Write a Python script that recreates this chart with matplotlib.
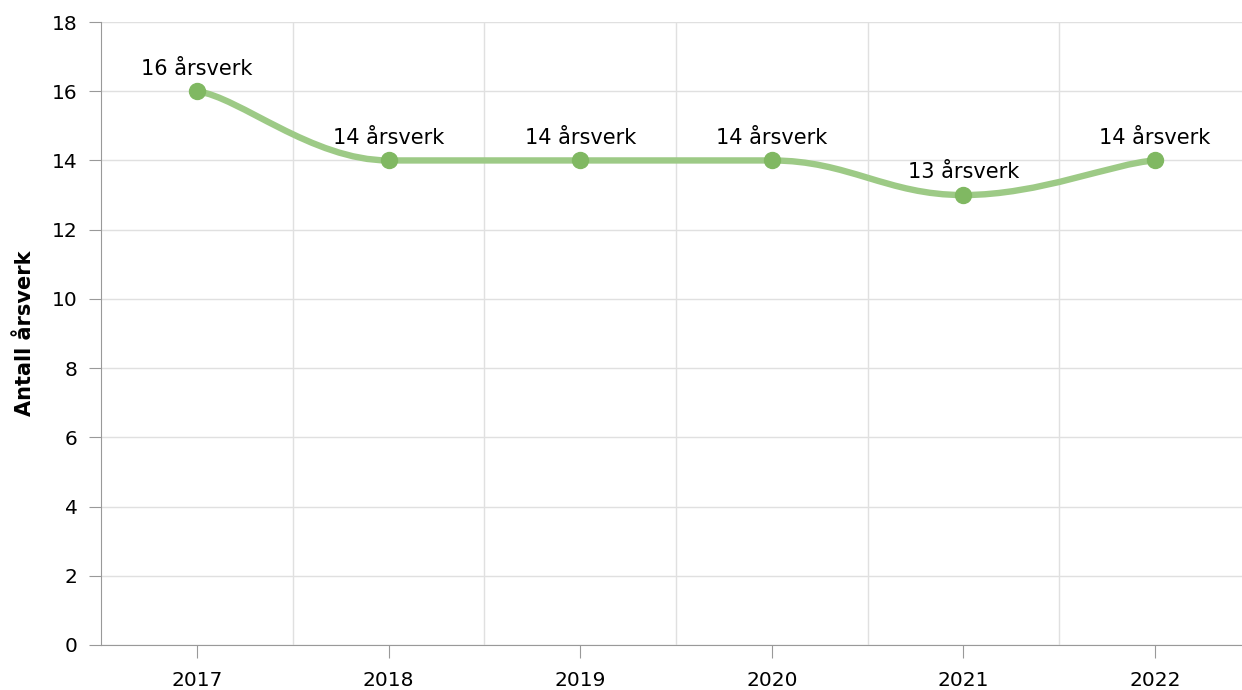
import matplotlib.pyplot as plt
from matplotlib.path import Path
from matplotlib.patches import PathPatch
import numpy as np

aar = ['2017', '2018', '2019', '2020', '2021', '2022']
aarsverk = [16, 14, 14, 14, 13, 14]

fig = plt.figure(figsize=(12.42, 6.9), dpi=100)
ax = fig.add_axes([101 / 1242, 45 / 690, 1 - 101 / 1242, (645 - 22) / 690])

xs = np.arange(len(aar), dtype=float)
ys = np.array(aarsverk, dtype=float)

# glatt kurve, kontrollpunkter omtrent som highcharts spline
def kontroll(i):
    s = 1.5
    d = s + 1
    if i == 0:
        p = (xs[0] + 0.22 * (xs[1] - xs[0]), ys[0] + 0.08 * (ys[1] - ys[0]))
        return p, p
    if i == len(xs) - 1:
        p = (xs[i] - 0.22 * (xs[i] - xs[i - 1]), ys[i] - 0.08 * (ys[i] - ys[i - 1]))
        return p, p
    lx = (s * xs[i] + xs[i - 1]) / d
    ly = (s * ys[i] + ys[i - 1]) / d
    rx = (s * xs[i] + xs[i + 1]) / d
    ry = (s * ys[i] + ys[i + 1]) / d
    corr = (ry - ly) * (rx - xs[i]) / (rx - lx) + ys[i] - ry
    ly += corr
    ry += corr
    if ly > ys[i - 1] and ly > ys[i]:
        ly = max(ys[i - 1], ys[i]); ry = 2 * ys[i] - ly
    elif ly < ys[i - 1] and ly < ys[i]:
        ly = min(ys[i - 1], ys[i]); ry = 2 * ys[i] - ly
    if ry > ys[i + 1] and ry > ys[i]:
        ry = max(ys[i + 1], ys[i]); ly = 2 * ys[i] - ry
    elif ry < ys[i + 1] and ry < ys[i]:
        ry = min(ys[i + 1], ys[i]); ly = 2 * ys[i] - ry
    return (lx, ly), (rx, ry)

verts = [(xs[0], ys[0])]
codes = [Path.MOVETO]
for i in range(1, len(xs)):
    verts += [kontroll(i - 1)[1], kontroll(i)[0], (xs[i], ys[i])]
    codes += [Path.CURVE4] * 3
ax.add_patch(PathPatch(Path(verts, codes), fill=False, edgecolor='#9dca86',
                       lw=4.6, capstyle='round', zorder=3))
ax.plot(xs, ys, 'o', color='#80b862', ms=11.5, zorder=4)

for x, y in zip(xs, ys):
    ax.annotate(f'{y:.0f} årsverk', (x, y), xytext=(0, 12), textcoords='offset points',
                ha='center', va='baseline', fontsize=15)

ax.set_xlim(-0.501, 5.454)
ax.set_ylim(0, 18)
ax.set_yticks(range(0, 19, 2))
ax.set_xticks(xs)
ax.set_xticklabels(aar)
ax.set_xticks(np.arange(0.5, 5.5, 1), minor=True)
ax.grid(which='minor', axis='x', color='#e0e0e0', lw=1)
ax.grid(which='major', axis='y', color='#e0e0e0', lw=1)
ax.tick_params(axis='x', which='minor', length=0)
ax.tick_params(axis='both', which='major', labelsize=14.5, length=9, color='#999999', pad=10)
ax.tick_params(axis='y', pad=8)
ax.set_ylabel('Antall årsverk', fontsize=15, fontweight='bold', labelpad=12)
for side in ['top', 'right']:
    ax.spines[side].set_visible(False)
for side in ['left', 'bottom']:
    ax.spines[side].set_color('#999999')
ax.set_axisbelow(True)

fig.savefig('out.png', dpi=100)
